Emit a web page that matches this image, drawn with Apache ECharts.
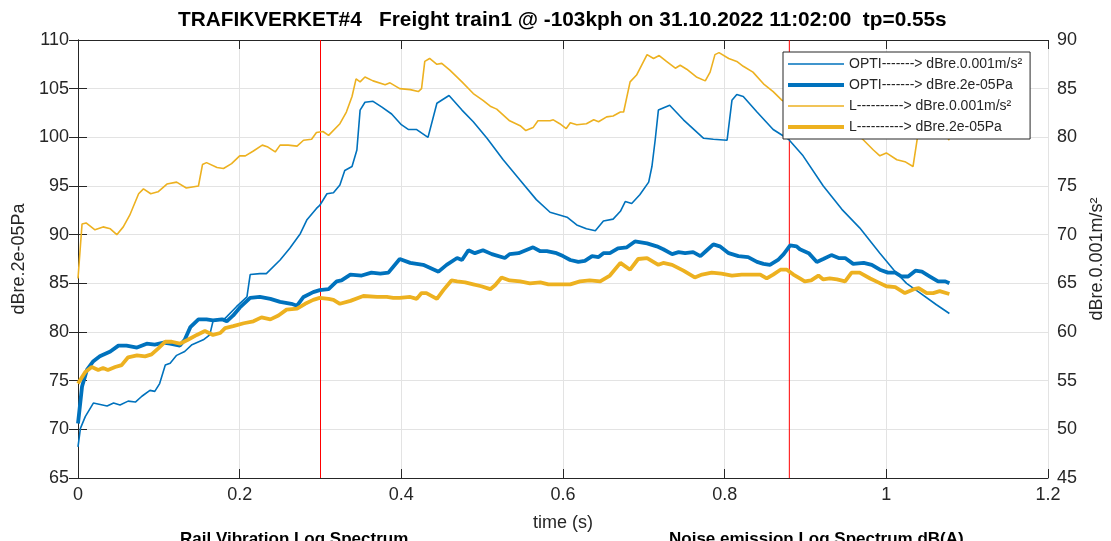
<!DOCTYPE html>
<html><head><meta charset="utf-8">
<script src="https://cdn.jsdelivr.net/npm/echarts@6.0.0/dist/echarts.min.js"></script>
<style>html,body{margin:0;padding:0;background:#fff}#c{width:1111px;height:541px}</style>
</head><body><div id="c"></div>
<script>
const titleText = 'TRAFIKVERKET#4   Freight train1 @ -103kph on 31.10.2022 11:02:00  tp=0.55s';
const seriesNames = ['OPTI-------> dBre.0.001m/s\u00b2','OPTI-------> dBre.2e-05Pa','L----------> dBre.0.001m/s\u00b2','L----------> dBre.2e-05Pa'];
const markerTimes = [0.3, 0.88];
const xTicks = {min:0, max:1.2, interval:0.2};
const leftTicks = {min:65, max:110, interval:5};
const rightTicks = {min:45, max:90, interval:5};
const bottomLabels = ['Rail Vibration Log Spectrum','Noise emission Log Spectrum dB(A)'];

// thin blue: OPTI, right axis (dBre.0.001m/s²)
const optiAcc = [[0,48.2],[0.003,50.1],[0.009,51.3],[0.019,52.7],[0.036,52.4],[0.044,52.7],[0.052,52.5],[0.062,52.9],[0.071,52.8],[0.079,53.4],[0.089,54.0],[0.095,53.9],[0.101,54.7],[0.108,56.6],[0.114,56.8],[0.122,57.6],[0.132,58.0],[0.141,58.7],[0.155,59.2],[0.163,59.7],[0.167,61.1],[0.182,61.4],[0.196,62.6],[0.209,63.6],[0.213,65.9],[0.225,66.0],[0.233,66.0],[0.250,67.4],[0.262,68.6],[0.275,70.1],[0.283,71.5],[0.295,72.7],[0.299,73.0],[0.308,74.2],[0.316,74.3],[0.324,75.1],[0.330,76.6],[0.339,77.0],[0.345,78.7],[0.349,82.8],[0.355,83.6],[0.365,83.7],[0.376,83.1],[0.388,82.4],[0.400,81.3],[0.409,80.8],[0.419,80.8],[0.433,80.0],[0.444,83.5],[0.459,84.3],[0.475,82.8],[0.489,81.6],[0.506,79.9],[0.526,77.7],[0.547,75.6],[0.567,73.6],[0.584,72.3],[0.605,71.8],[0.617,71.0],[0.629,70.6],[0.640,70.4],[0.650,71.4],[0.662,71.6],[0.671,72.4],[0.677,73.4],[0.685,73.2],[0.695,74.1],[0.706,75.4],[0.710,77.0],[0.714,79.7],[0.718,82.8],[0.732,83.3],[0.749,81.8],[0.774,79.9],[0.786,79.8],[0.803,79.7],[0.809,83.8],[0.815,84.4],[0.823,84.2],[0.840,82.6],[0.860,80.8],[0.879,79.8],[0.897,78.1],[0.922,75.0],[0.945,72.6],[0.967,70.7],[0.992,68.1],[1.009,66.4],[1.025,65.0],[1.042,64.0],[1.062,62.8],[1.078,61.9]];

// thick blue: OPTI, left axis (dBre.2e-05Pa)
const optiPa = [[0,70.6],[0.005,74.4],[0.011,76.1],[0.019,77.0],[0.027,77.5],[0.040,78.0],[0.050,78.6],[0.060,78.6],[0.073,78.4],[0.085,78.8],[0.095,78.7],[0.106,78.9],[0.114,78.8],[0.126,78.6],[0.132,79.2],[0.139,80.5],[0.149,81.3],[0.159,81.3],[0.167,81.2],[0.178,81.3],[0.184,81.1],[0.192,81.7],[0.200,82.5],[0.213,83.5],[0.225,83.6],[0.238,83.4],[0.250,83.1],[0.264,82.9],[0.271,82.7],[0.279,83.6],[0.291,84.1],[0.299,84.3],[0.310,84.4],[0.320,85.2],[0.326,85.3],[0.337,85.9],[0.351,85.8],[0.363,86.1],[0.374,86.0],[0.384,86.1],[0.398,87.5],[0.411,87.1],[0.427,86.9],[0.446,86.2],[0.456,86.9],[0.469,87.6],[0.475,87.4],[0.483,88.4],[0.491,88.1],[0.501,88.4],[0.512,88.0],[0.528,87.6],[0.534,88.0],[0.545,88.1],[0.563,88.7],[0.572,88.3],[0.580,88.3],[0.592,88.1],[0.600,87.8],[0.609,87.4],[0.619,87.2],[0.627,87.3],[0.636,87.8],[0.644,87.7],[0.650,88.1],[0.658,88.1],[0.668,88.6],[0.679,88.7],[0.689,89.3],[0.704,89.1],[0.716,88.8],[0.724,88.5],[0.735,88.0],[0.743,88.2],[0.751,88.1],[0.761,88.2],[0.770,87.8],[0.778,88.4],[0.786,89.0],[0.794,88.8],[0.805,88.1],[0.817,87.8],[0.829,87.7],[0.840,87.2],[0.848,87.0],[0.856,86.9],[0.866,87.4],[0.873,88.0],[0.881,88.9],[0.889,88.8],[0.893,88.5],[0.904,88.1],[0.914,87.2],[0.922,87.5],[0.932,87.9],[0.941,87.6],[0.949,87.6],[0.959,87.0],[0.972,87.1],[0.982,86.9],[0.992,86.4],[1.002,86.1],[1.011,86.1],[1.019,85.7],[1.027,85.7],[1.036,86.3],[1.044,86.2],[1.054,85.7],[1.064,85.2],[1.073,85.2],[1.078,85.0]];

// thin yellow: L, right axis (dBre.0.001m/s²)
const lAcc = [[0,65.5],[0.005,71.1],[0.010,71.2],[0.021,70.5],[0.031,70.8],[0.040,70.6],[0.048,70.0],[0.056,70.8],[0.064,72.0],[0.075,74.2],[0.081,74.7],[0.090,74.2],[0.099,74.4],[0.110,75.2],[0.122,75.4],[0.134,74.8],[0.149,75.0],[0.154,77.2],[0.159,77.4],[0.172,76.9],[0.180,76.8],[0.190,77.3],[0.200,78.1],[0.207,78.1],[0.217,78.6],[0.228,79.2],[0.235,79.0],[0.244,78.5],[0.250,79.2],[0.260,79.2],[0.271,79.1],[0.279,79.7],[0.289,79.8],[0.295,80.5],[0.303,80.6],[0.310,80.2],[0.324,81.4],[0.332,82.6],[0.339,84.2],[0.344,86.0],[0.349,85.7],[0.355,86.2],[0.365,85.8],[0.380,85.4],[0.386,85.6],[0.398,85.0],[0.411,84.9],[0.421,84.7],[0.425,85.0],[0.429,87.8],[0.435,88.1],[0.444,87.5],[0.450,87.6],[0.460,86.9],[0.475,85.7],[0.489,84.5],[0.501,83.8],[0.510,83.2],[0.518,82.9],[0.534,81.7],[0.547,81.2],[0.554,80.7],[0.563,81.0],[0.569,81.7],[0.584,81.7],[0.588,81.8],[0.596,81.4],[0.604,80.9],[0.609,81.5],[0.617,81.3],[0.629,81.4],[0.638,81.8],[0.644,81.6],[0.654,82.1],[0.662,82.2],[0.671,82.6],[0.675,82.6],[0.683,85.7],[0.691,86.4],[0.704,88.5],[0.712,88.1],[0.719,88.4],[0.728,87.8],[0.739,87.1],[0.745,87.4],[0.753,87.0],[0.765,86.2],[0.776,85.8],[0.782,86.7],[0.788,88.5],[0.793,88.7],[0.805,88.1],[0.815,87.8],[0.823,87.3],[0.835,86.7],[0.848,85.5],[0.860,84.7],[0.871,83.8],[0.890,83.0],[0.914,82.0],[0.941,81.3],[0.967,80.1],[0.972,79.7],[0.984,78.7],[0.992,78.1],[1.000,78.4],[1.013,77.7],[1.023,77.5],[1.033,77.0],[1.040,80.8],[1.050,82.0],[1.066,81.0],[1.078,79.7]];

// thick yellow: L, left axis (dBre.2e-05Pa)
const lPa = [[0,74.7],[0.009,75.9],[0.017,76.4],[0.025,76.1],[0.031,76.3],[0.037,76.1],[0.046,76.4],[0.054,76.6],[0.062,77.4],[0.073,77.6],[0.083,77.5],[0.091,77.7],[0.099,78.3],[0.108,79.0],[0.116,79.0],[0.126,78.8],[0.136,79.2],[0.147,79.7],[0.157,80.1],[0.167,79.7],[0.176,79.9],[0.182,80.4],[0.192,80.6],[0.205,80.9],[0.217,81.1],[0.227,81.5],[0.238,81.3],[0.248,81.7],[0.258,82.3],[0.271,82.4],[0.281,82.9],[0.291,83.3],[0.299,83.5],[0.310,83.4],[0.316,83.3],[0.324,82.9],[0.337,83.2],[0.353,83.7],[0.370,83.6],[0.382,83.6],[0.390,83.5],[0.398,83.5],[0.411,83.6],[0.419,83.4],[0.425,84.0],[0.431,84.0],[0.444,83.4],[0.452,84.3],[0.462,85.3],[0.469,85.2],[0.479,85.1],[0.489,84.9],[0.499,84.7],[0.510,84.4],[0.516,84.8],[0.524,85.6],[0.534,85.3],[0.547,85.2],[0.559,85.0],[0.572,85.1],[0.582,84.9],[0.592,84.9],[0.609,84.9],[0.621,85.2],[0.633,85.3],[0.646,85.2],[0.658,85.8],[0.671,87.1],[0.683,86.4],[0.693,87.5],[0.704,87.6],[0.718,86.9],[0.724,87.1],[0.735,86.9],[0.749,86.3],[0.763,85.6],[0.772,85.9],[0.784,86.1],[0.796,86.0],[0.809,85.8],[0.821,85.9],[0.835,85.9],[0.844,85.9],[0.852,85.5],[0.860,85.9],[0.869,86.4],[0.877,86.4],[0.885,85.9],[0.893,85.5],[0.899,85.2],[0.907,85.3],[0.916,85.8],[0.922,85.4],[0.930,85.5],[0.939,85.4],[0.949,85.2],[0.957,86.1],[0.967,86.1],[0.980,85.5],[0.990,85.1],[1.000,84.7],[1.011,84.6],[1.023,84.0],[1.034,84.4],[1.040,84.5],[1.050,84.0],[1.058,84.0],[1.066,84.2],[1.078,83.9]];

const FONT = '"Liberation Sans", Arial, Helvetica, sans-serif';
const AX = '#262626';
const BLUE = '#0072BD', YEL = '#EDB120', RED = '#ff0000';
const THIN = 1.6, THICK = 3.8;

const chart = echarts.init(document.getElementById('c'), null, {renderer:'canvas'});
const axisCommon = {
  axisLine:{show:true, lineStyle:{color:AX, width:1}},
  axisTick:{show:true, inside:true, length:9, lineStyle:{color:AX}},
  axisLabel:{color:AX, fontSize:18, fontFamily:FONT},
  nameTextStyle:{color:AX, fontSize:18, fontFamily:FONT}
};
function fmtX(v){ return String(Math.round(v*10)/10); }
function lineIcon(w){ return 'path://M0,0L56,0L56,' + w + 'L0,' + w + 'Z'; }
const widths = [THIN, THICK, THIN, THICK];

// vertical red marker lines as their own series, drawn through the axes
const markerSeries = markerTimes.map((t, i) => ({
  name:'marker' + i, type:'line', yAxisIndex:0, symbol:'none', silent:true, z:1,
  data:[[t, leftTicks.min], [t, leftTicks.max]],
  lineStyle:{color:RED, width:1}, itemStyle:{color:RED}
}));

const opt = {
  animation:false,
  backgroundColor:'#fff',
  title:{text:titleText, left:173, top:5, textStyle:{fontSize:20.8, fontWeight:'bold', color:'#000', fontFamily:FONT}},
  grid:{left:78, right:63, top:40, bottom:63, containLabel:false, outerBoundsMode:'none'},
  legend:{orient:'vertical', left:783, top:52, backgroundColor:'#fff', borderColor:AX, borderWidth:1,
    padding:[5,8,5,5], itemGap:7, itemWidth:56, itemHeight:15,
    itemStyle:{borderWidth:0}, lineStyle:{width:0},
    textStyle:{fontSize:14, fontFamily:FONT, color:AX},
    data:seriesNames.map((n,i)=>({name:n, icon:lineIcon(widths[i])}))},
  xAxis:[
    Object.assign({}, axisCommon, {type:'value', position:'bottom', min:xTicks.min, max:xTicks.max, interval:xTicks.interval,
      name:'time (s)', nameLocation:'middle', nameGap:36,
      axisLabel:Object.assign({}, axisCommon.axisLabel, {margin:8, formatter:fmtX}),
      splitLine:{show:true, lineStyle:{color:'#e3e3e3', width:1}}}),
    Object.assign({}, axisCommon, {type:'value', position:'top', min:xTicks.min, max:xTicks.max, interval:xTicks.interval,
      axisLabel:{show:false}, splitLine:{show:false}})
  ],
  yAxis:[
    Object.assign({}, axisCommon, {type:'value', position:'left', min:leftTicks.min, max:leftTicks.max, interval:leftTicks.interval,
      name:'dBre.2e-05Pa', nameLocation:'middle', nameGap:44, nameRotate:90,
      axisLabel:Object.assign({}, axisCommon.axisLabel, {margin:9}),
      splitLine:{show:true, lineStyle:{color:'#e3e3e3', width:1}}}),
    Object.assign({}, axisCommon, {type:'value', position:'right', min:rightTicks.min, max:rightTicks.max, interval:rightTicks.interval,
      name:'dBre.0.001m/s\u00b2', nameLocation:'middle', nameGap:40, nameRotate:90,
      axisLabel:Object.assign({}, axisCommon.axisLabel, {margin:9}),
      splitLine:{show:false}})
  ],
  series:[
    {name:seriesNames[0], type:'line', yAxisIndex:1, data:optiAcc, symbol:'none', lineStyle:{color:BLUE, width:THIN}, itemStyle:{color:BLUE}},
    {name:seriesNames[1], type:'line', yAxisIndex:0, data:optiPa, symbol:'none', lineStyle:{color:BLUE, width:THICK}, itemStyle:{color:BLUE}},
    {name:seriesNames[2], type:'line', yAxisIndex:1, data:lAcc, symbol:'none', lineStyle:{color:YEL, width:THIN}, itemStyle:{color:YEL}},
    {name:seriesNames[3], type:'line', yAxisIndex:0, data:lPa, symbol:'none', lineStyle:{color:YEL, width:THICK}, itemStyle:{color:YEL}}
  ].concat(markerSeries),
  graphic:[
    {type:'text', left:180, top:531, style:{text:bottomLabels[0], font:'bold 17px '+FONT, fill:'#000'}},
    {type:'text', left:669, top:531, style:{text:bottomLabels[1], font:'bold 17px '+FONT, fill:'#000'}}
  ]
};
chart.setOption(opt);
</script></body></html>
